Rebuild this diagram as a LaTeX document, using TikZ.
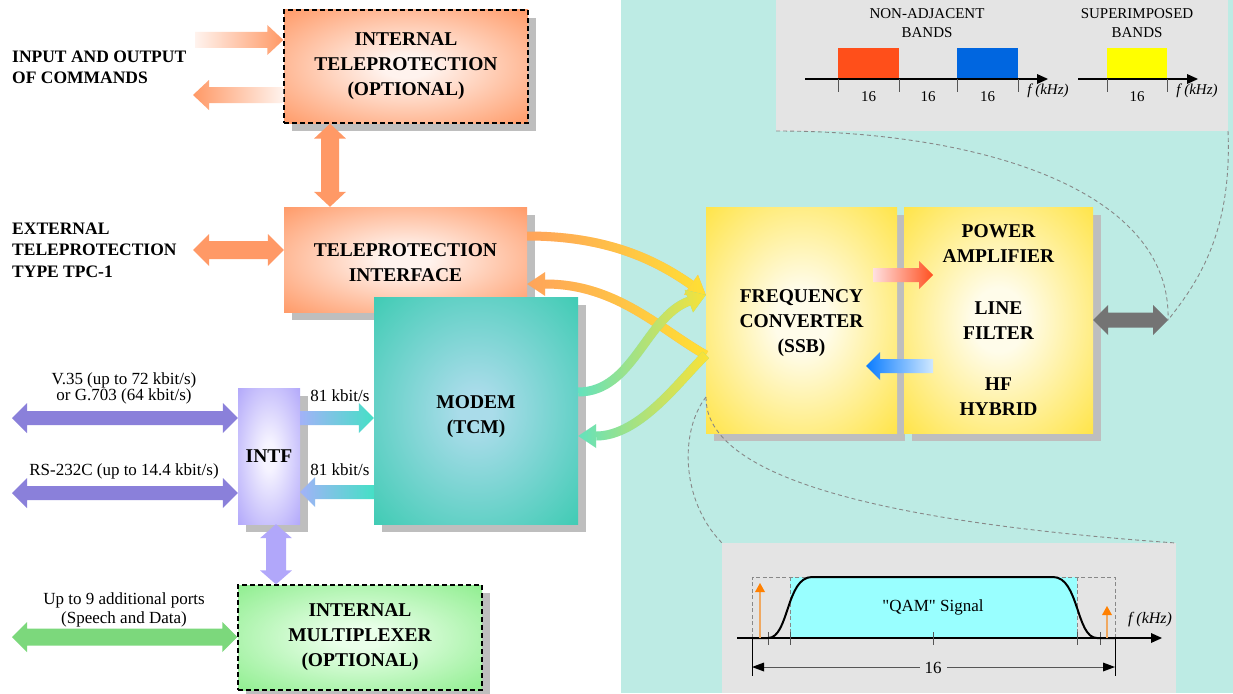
\documentclass[tikz,border=0pt]{standalone}
\usepackage{fontspec}
\setmainfont{Liberation Serif}
\newfontfamily\qamfont{Liberation Serif}
\usetikzlibrary{arrows.meta,shadows,fadings,calc}

\definecolor{tealbg}{HTML}{BDEBE4}
\definecolor{greybox}{HTML}{E4E4E4}
\definecolor{shadowc}{HTML}{BEBEBE}
\definecolor{orng}{HTML}{FF9966}
\definecolor{orngin}{HTML}{FFF3EE}
\definecolor{modout}{HTML}{3ECBB3}
\definecolor{modin}{HTML}{AADCEA}
\definecolor{intfout}{HTML}{B1A7FA}
\definecolor{intfin}{HTML}{F6F4FF}
\definecolor{muxout}{HTML}{8EEE8E}
\definecolor{muxin}{HTML}{EAFFEA}
\definecolor{yelout}{HTML}{FFE23A}
\definecolor{yelin}{HTML}{FFFCEA}
\definecolor{purp}{HTML}{8A80DA}
\definecolor{purpin}{HTML}{F0EFFC}
\definecolor{lavb}{HTML}{A2B2F8}
\definecolor{tealar}{HTML}{45E0C6}
\definecolor{grn}{HTML}{7CD87C}
\definecolor{grnin}{HTML}{EAFCEA}
\definecolor{redar}{HTML}{FF5020}
\definecolor{redin}{HTML}{FFE0E0}
\definecolor{bluar}{HTML}{0A7CFF}
\definecolor{bluin}{HTML}{D0E8FF}
\definecolor{gryar}{HTML}{747474}
\definecolor{gryin}{HTML}{E0E0E0}
\definecolor{corng}{HTML}{FFA25C}
\definecolor{cyel}{HTML}{FFE233}
\definecolor{cgrn}{HTML}{5EE3C2}
\definecolor{redb}{HTML}{FF4F1A}
\definecolor{blub}{HTML}{0066E0}
\definecolor{yelb}{HTML}{FFFF00}
\definecolor{qamc}{HTML}{99FFFF}
\definecolor{axisc}{HTML}{555555}
\definecolor{dashc}{HTML}{888888}
\definecolor{tipor}{HTML}{FF8000}
\definecolor{shaftor}{HTML}{F0A860}

\pgfdeclareradialshading{shOr}{\pgfpoint{0bp}{0bp}}{color(0bp)=(orngin); color(5bp)=(orngin); color(36bp)=(orng); color(100bp)=(orng)}
\pgfdeclareradialshading{shMod}{\pgfpoint{0bp}{0bp}}{color(0bp)=(modin); color(4bp)=(modin); color(36bp)=(modout); color(100bp)=(modout)}
\pgfdeclareradialshading{shIntf}{\pgfpoint{0bp}{0bp}}{color(0bp)=(intfin); color(5bp)=(intfin); color(36bp)=(intfout); color(100bp)=(intfout)}
\pgfdeclareradialshading{shMux}{\pgfpoint{0bp}{0bp}}{color(0bp)=(muxin); color(5bp)=(muxin); color(36bp)=(muxout); color(100bp)=(muxout)}
\pgfdeclareradialshading{shYel}{\pgfpoint{0bp}{0bp}}{color(0bp)=(yelin); color(7bp)=(yelin); color(38bp)=(yelout); color(100bp)=(yelout)}

\tikzfading[name=fadeE, left color=transparent!100, right color=transparent!0]

\tikzset{
  blockbox/.style={inner sep=0pt, align=center,
    font=\bfseries\fontsize{19.5}{25}\selectfont,
    general shadow={fill=shadowc, shadow xshift=8pt, shadow yshift=-8pt}},
  obox/.style={blockbox, shade, shading=shOr},
  modembox/.style={blockbox, shade, shading=shMod},
  intfbox/.style={blockbox, shade, shading=shIntf},
  muxbox/.style={blockbox, shade, shading=shMux},
  ybox/.style={blockbox, shade, shading=shYel},
  optbox/.style={draw=black, line width=1.3pt, dash pattern=on 5pt off 3pt},
  lbl/.style={inner sep=0pt, anchor=west, align=left,
    font=\bfseries\fontsize{17.5}{21.5}\selectfont},
  smalltxt/.style={inner sep=0pt, align=center, font=\fontsize{17}{17}\selectfont},
  bandtxt/.style={inner sep=0pt, align=center, font=\fontsize{15}{18.5}\selectfont},
  fkhz/.style={inner sep=0pt, font=\itshape\fontsize{15}{18}\selectfont},
  curv/.style={line width=9pt, -{Triangle[length=18pt,width=24pt,line width=0pt]}},
  dashcon/.style={draw=dashc, line width=0.9pt, dash pattern=on 4pt off 3pt},
  axisline/.style={draw=black, line width=1.1pt, -{Triangle[length=11pt,width=10pt,line width=0pt]}},
  tick/.style={draw=axisc, line width=1pt},
}

% single block arrow: #1 shading, #2 from, #3 to (head), #4 half shaft, #5 half head, #6 head length
\newcommand\sarrow[6]{%
  \coordinate (hh) at ($(#3)!#6!(#2)$);
  \path[#1] ($(#2)!#4!90:(#3)$) -- ($(hh)!#4!90:(#3)$) -- ($(hh)!#5!90:(#3)$) -- (#3)
    -- ($(hh)!#5!-90:(#3)$) -- ($(hh)!#4!-90:(#3)$) -- ($(#2)!#4!-90:(#3)$) -- cycle;}
% double block arrow
\newcommand\darrow[6]{%
  \coordinate (ha) at ($(#2)!#6!(#3)$);
  \coordinate (hb) at ($(#3)!#6!(#2)$);
  \path[#1] (#2) -- ($(ha)!#5!90:(#3)$) -- ($(ha)!#4!90:(#3)$) -- ($(hb)!#4!90:(#3)$)
    -- ($(hb)!#5!90:(#3)$) -- (#3) -- ($(hb)!#5!-90:(#3)$) -- ($(hb)!#4!-90:(#3)$)
    -- ($(ha)!#4!-90:(#3)$) -- ($(ha)!#5!-90:(#3)$) -- cycle;}
% curved connector with colour gradient from left to right
\newcommand\gradcurve[4]{%
  \draw[#1, draw=#2] #4;
  \draw[#1, draw=#3, path fading=fadeE] #4;}

\begin{document}
\begin{tikzpicture}[x=1pt,y=-1pt]
\useasboundingbox (0,0) rectangle (1233,693);
\fill[white] (0,0) rectangle (1233,693);
\fill[tealbg] (621,0) rectangle (1233,693);
\fill[greybox] (776,0) rectangle (1228,131);
\fill[greybox] (722,543) rectangle (1176,693);

% ---------- blocks ----------
\node[obox, optbox, minimum width=244pt, minimum height=113pt] (itp) at (406,66.5)
  {INTERNAL\\TELEPROTECTION\\(OPTIONAL)};
\node[obox, minimum width=243pt, minimum height=105pt] (ti) at (405.5,259.5)
  {\rule{0pt}{19pt}TELEPROTECTION\\INTERFACE};
\node[modembox, minimum width=204pt, minimum height=227pt] (modem) at (476,410.5)
  {\rule{0pt}{25pt}MODEM\\(TCM)};
\node[intfbox, minimum width=62pt, minimum height=136pt] (intf) at (269,456) {INTF};
\node[muxbox, optbox, minimum width=244pt, minimum height=105pt] (mux) at (360,637.5)
  {INTERNAL\\MULTIPLEXER\\(OPTIONAL)};
\node[ybox, minimum width=191pt, minimum height=226pt] (fc) at (801.5,320)
  {\rule{0pt}{20pt}FREQUENCY\\CONVERTER\\(SSB)};
\node[ybox, minimum width=189pt, minimum height=226pt] (pa) at (998.5,320)
  {POWER\\AMPLIFIER\\[27pt]LINE\\FILTER\\[26pt]HF\\HYBRID};

% ---------- left labels ----------
\node[lbl] (lio) at (12,67.5) {INPUT AND OUTPUT\\OF COMMANDS};
\node[lbl] (lext) at (12,250) {EXTERNAL\\TELEPROTECTION\\TYPE TPC-1};
\node[smalltxt, font=\fontsize{17}{16}\selectfont] (lv35) at (124,388) {V.35 (up to 72 kbit/s)\\or G.703 (64 kbit/s)};
\node[smalltxt] (lrs) at (124,471) {RS-232C (up to 14.4 kbit/s)};
\node[smalltxt] (l81a) at (340,396) {81 kbit/s};
\node[smalltxt] (l81b) at (340,470) {81 kbit/s};
\node[smalltxt, font=\fontsize{17}{19}\selectfont] (lports) at (124,610) {Up to 9 additional ports\\(Speech and Data)};

% ---------- straight block arrows ----------
\coordinate (inA) at (195,40);  \coordinate (inB) at (inA -| itp.west);
\sarrow{left color=orngin, right color=orng}{inA}{inB}{8pt}{15pt}{16pt}
\coordinate (outB) at (193,95); \coordinate (outA) at (outB -| itp.west);
\sarrow{left color=orng, right color=orngin}{outA}{outB}{8pt}{15pt}{16pt}
\coordinate (vx) at (330,0);
\coordinate (va) at (vx |- itp.south); \coordinate (vb) at (vx |- ti.north);
\darrow{top color=orng, middle color=orngin, bottom color=orng}{va}{vb}{9pt}{16pt}{15pt}
\coordinate (extA) at (193,250); \coordinate (extB) at (extA -| ti.west);
\darrow{left color=orng, middle color=orngin, right color=orng}{extA}{extB}{9pt}{16pt}{16pt}
\coordinate (v35A) at (12,418); \coordinate (v35B) at (v35A -| intf.west);
\darrow{left color=purp, middle color=purpin, right color=purp}{v35A}{v35B}{7pt}{15pt}{15pt}
\coordinate (rsA) at (12,493); \coordinate (rsB) at (rsA -| intf.west);
\darrow{left color=purp, middle color=purpin, right color=purp}{rsA}{rsB}{7pt}{15pt}{15pt}
\coordinate (k1A) at (intf.east |- 0,418); \coordinate (k1B) at (modem.west |- 0,418);
\sarrow{left color=lavb, right color=tealar}{k1A}{k1B}{7pt}{15pt}{15pt}
\coordinate (k2A) at (modem.west |- 0,492); \coordinate (k2B) at (intf.east |- 0,492);
\sarrow{left color=lavb, right color=tealar}{k2A}{k2B}{7pt}{15pt}{15pt}
\coordinate (mx) at (276,0);
\coordinate (mA) at (mx |- intf.south); \coordinate (mB) at (mx |- mux.north);
\darrow{top color=intfout, middle color=intfin, bottom color=intfout}{mA}{mB}{10pt}{16pt}{14pt}
\coordinate (pA) at (12,637); \coordinate (pB) at (pA -| mux.west);
\darrow{left color=grn, middle color=grnin, right color=grn}{pA}{pB}{8.5pt}{15pt}{15pt}
\coordinate (rA) at (873,275); \coordinate (rB) at (933,275);
\sarrow{left color=redin, right color=redar}{rA}{rB}{7pt}{14pt}{14pt}
\coordinate (bA) at (933,366); \coordinate (bB) at (866,366);
\sarrow{left color=bluar, right color=bluin}{bA}{bB}{7pt}{14pt}{14pt}
\coordinate (gA) at (pa.east |- 0,320); \coordinate (gB) at (1168,320);
\darrow{left color=gryar, middle color=gryin, right color=gryar}{gA}{gB}{7.5pt}{15pt}{15pt}

% ---------- curved connectors ----------
\coordinate (tiA) at (ti.east |- 0,236);
\coordinate (tiB) at (ti.east |- 0,284);
\coordinate (fcIn) at (fc.west |- 0,295);
\coordinate (fcOut) at (fc.west |- 0,355);
\coordinate (moA) at (modem.east |- 0,392);
\coordinate (moB) at (modem.east |- 0,436);
\gradcurve{curv}{corng}{cyel}{(tiA) .. controls +(80,0) and +(-50,-35) .. (fcIn)}
\gradcurve{curv}{corng}{cyel}{(fcOut) .. controls +(-45,-25) and +(90,0) .. (tiB)}
\gradcurve{curv}{cgrn}{cyel}{(moA) .. controls +(55,0) and +(-60,22) .. (fcIn)}
\gradcurve{curv}{cgrn}{cyel}{(fcOut) .. controls +(-26,25) and +(62,0) .. (moB)}

% ---------- band diagrams (top right) ----------
\node[bandtxt] (t1) at (927,23) {NON-ADJACENT\\BANDS};
\node[bandtxt] (t2) at (1137,23) {SUPERIMPOSED\\BANDS};
\fill[redb] (838,48) rectangle (899,79);
\fill[blub] (957,48) rectangle (1018,79);
\fill[yelb] (1107,48) rectangle (1167,79);
\coordinate (a1s) at (805,79); \coordinate (a1e) at (1048,79);
\draw[axisline] (a1s) -- (a1e);
\coordinate (a2s) at (1078,79); \coordinate (a2e) at (1198,79);
\draw[axisline] (a2s) -- (a2e);
\foreach \x in {838,899,957,1018,1107,1167} \draw[tick] (\x,79) -- (\x,92);
\node[bandtxt] (n1) at (868.5,97) {16};
\node[bandtxt] (n2) at (928,97) {16};
\node[bandtxt] (n3) at (987.5,97) {16};
\node[bandtxt] (n4) at (1137,97) {16};
\node[fkhz] (f1) at (1048,91) {f (kHz)};
\node[fkhz] (f2) at (1197,91) {f (kHz)};

% ---------- QAM diagram (bottom right) ----------
\fill[qamc] (790,577) rectangle (1077,638);
\draw[draw=dashc, line width=0.9pt, dash pattern=on 4pt off 2.5pt] (752,638) -- (752,577) -- (1115,577) -- (1115,638);
\draw[draw=dashc, line width=0.9pt, dash pattern=on 4pt off 2.5pt] (790,577) -- (790,638) (1077,577) -- (1077,638);
\coordinate (q0) at (737,638); \coordinate (q1) at (1162,638);
\draw[draw=axisc, line width=1.1pt, -{Triangle[length=11pt,width=10pt,line width=0pt]}, color=black] (q0) -- (q1);
\foreach \x in {768,790,933,1077,1100} \draw[tick] (\x,632) -- (\x,645);
\draw[black, line width=2pt] (752,638) -- (768,638) .. controls (789,638) and (786,577) .. (812,577)
  -- (1053,577) .. controls (1079,577) and (1076,638) .. (1097,638) -- (1115,638);
\draw[draw=shaftor, line width=1.6pt, -{Triangle[length=9pt,width=10pt,line width=0pt,fill=tipor]}] (760,638) -- (760,583);
\draw[draw=shaftor, line width=1.6pt, -{Triangle[length=9pt,width=10pt,line width=0pt,fill=tipor]}] (1107,638) -- (1107,606);
\node[inner sep=0pt, font=\qamfont\fontsize{17}{18}\selectfont] (qam) at (933,607) {"QAM" Signal};
\node[fkhz, font=\itshape\fontsize{16}{18}\selectfont] (f3) at (1150,620) {f (kHz)};
\draw[black, line width=0.9pt] (752,638) -- (752,676) (1115,638) -- (1115,676);
\coordinate (d0) at (752,667); \coordinate (d1) at (1115,667);
\draw[draw=axisc, line width=1pt, {Triangle[length=12pt,width=9pt,line width=0pt,fill=black]}-{Triangle[length=12pt,width=9pt,line width=0pt,fill=black]}] (d0) -- (d1);
\node[fill=greybox, inner xsep=5pt, inner ysep=0pt, font=\fontsize{17}{18}\selectfont] (n16) at (933,668) {16};

% ---------- dashed zoom connectors ----------
\coordinate (gb1) at (776,131);
\coordinate (gb2) at (1228,131);
\draw[dashcon] (gb1) .. controls (980,131) and (1172,190) .. (gB);
\draw[dashcon] (gb2) .. controls (1232,230) and (1200,280) .. (gB);
\coordinate (fcz) at (706,397);
\coordinate (qb1) at (722,543);
\coordinate (qb2) at (1176,543);
\draw[dashcon] (fcz) .. controls (680,430) and (680,500) .. (qb1);
\draw[dashcon] (fcz) .. controls (705,470) and (850,520) .. (qb2);
\end{tikzpicture}
\end{document}
